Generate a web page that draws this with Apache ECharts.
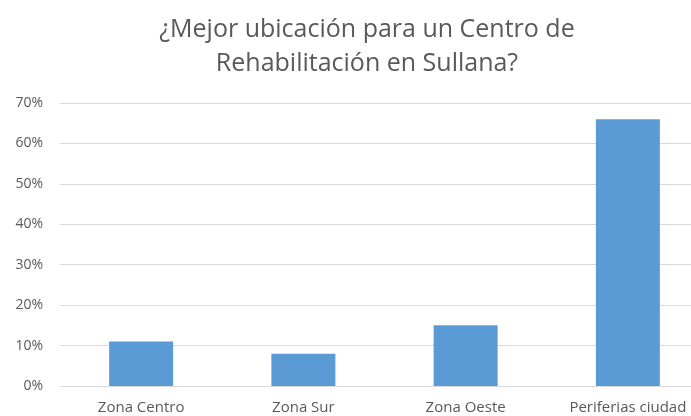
<!DOCTYPE html>
<html>
<head>
<meta charset="utf-8">
<script src="https://cdn.jsdelivr.net/npm/echarts@6/dist/echarts.min.js"></script>
<style>
  html, body { margin: 0; padding: 0; background: #fff; }
  #chart { width: 691px; height: 416px; }
</style>
</head>
<body>
<div id="chart"></div>
<script>
// datos
var categories = ["Zona Centro", "Zona Sur", "Zona Oeste", "Periferias ciudad"];
var values = [11, 8, 15, 66];
var yTicks = [0, 10, 20, 30, 40, 50, 60, 70];

var chart = echarts.init(document.getElementById("chart"), null, { renderer: "canvas" });

var option = {
    backgroundColor: "#ffffff",
    textStyle: { fontFamily: "Open Sans" },
    title: {
        text: "¿Mejor ubicación para un Centro de\nRehabilitación en Sullana?",
        left: 362,
        top: 8,
        textAlign: "center",
        textStyle: {
            color: "#595959",
            fontSize: 25,
            fontWeight: "normal",
            lineHeight: 34,
            fontFamily: "Open Sans"
        }
    },
    grid: {
        left: 60,
        top: 103,
        width: 649,
        height: 283,
        outerBoundsMode: "none"
    },
    xAxis: {
        type: "category",
        data: categories,
        axisLine: { lineStyle: { color: "#d9d9d9" } },
        axisTick: { show: false },
        axisLabel: { color: "#595959", fontSize: 15, margin: 14 }
    },
    yAxis: {
        type: "value",
        min: yTicks[0],
        max: yTicks[yTicks.length - 1],
        interval: 10,
        axisLine: { show: false },
        axisTick: { show: false },
        splitLine: { lineStyle: { color: "#d9d9d9" } },
        axisLabel: {
            color: "#595959",
            fontSize: 14,
            margin: 17,
            formatter: function (v) { return v + "%"; }
        }
    },
    series: [
        {
            type: "bar",
            data: values,
            barWidth: 64,
            itemStyle: { color: "#5b9bd5" },
            animation: false
        }
    ]
};

chart.setOption(option);
</script>
</body>
</html>
